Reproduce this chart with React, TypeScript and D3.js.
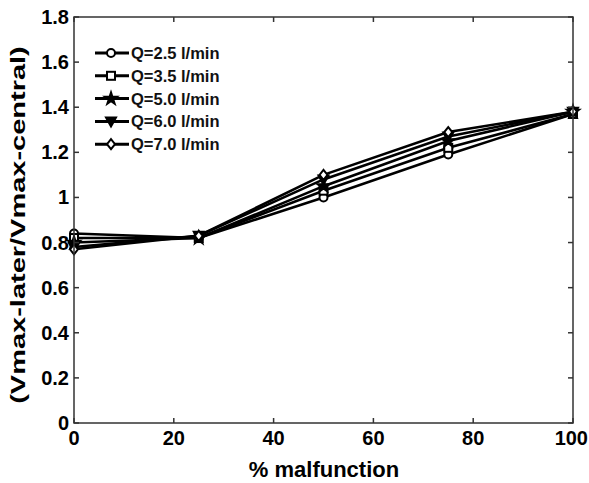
import React from "react";
import * as d3 from "d3";

const xValues = [0, 25, 50, 75, 100];
const seriesNames = ["Q=2.5 l/min", "Q=3.5 l/min", "Q=5.0 l/min", "Q=6.0 l/min", "Q=7.0 l/min"];
const q25 = [0.84, 0.82, 1.0, 1.19, 1.37];
const q35 = [0.82, 0.82, 1.03, 1.22, 1.37];
const q50 = [0.80, 0.82, 1.05, 1.25, 1.38];
const q60 = [0.78, 0.83, 1.08, 1.27, 1.38];
const q70 = [0.77, 0.83, 1.10, 1.29, 1.38];
const markers = ["circle", "square", "star", "triangleDown", "diamond"];
const xTicks = [0, 20, 40, 60, 80, 100];
const yTicks = [0, 0.2, 0.4, 0.6, 0.8, 1, 1.2, 1.4, 1.6, 1.8];

const allSeries = [q25, q35, q50, q60, q70];

function Marker({ type, x, y }: { type: string; x: number; y: number }) {
  const s = 4;
  const common = { stroke: "#000", strokeWidth: 2 };
  if (type === "circle") return <circle cx={x} cy={y} r={s} fill="#fff" {...common} />;
  if (type === "square") return <rect x={x - s} y={y - s} width={2 * s} height={2 * s} fill="#fff" {...common} />;
  if (type === "star") {
    const p = d3.symbol(d3.symbolStar, 55)();
    return <path d={p || ""} transform={`translate(${x},${y})`} fill="#000" stroke="#000" strokeWidth={1.5} />;
  }
  if (type === "triangleDown")
    return <path d={`M${x - s - 1},${y - s}L${x + s + 1},${y - s}L${x},${y + s + 1}Z`} fill="#000" {...common} />;
  return <path d={`M${x},${y - s - 1}L${x + s},${y}L${x},${y + s + 1}L${x - s},${y}Z`} fill="#fff" {...common} />;
}

export default function App() {
  const W = 589, H = 483;
  const left = 74, right = 573, top = 17, bottom = 423;
  const x = d3.scaleLinear().domain([0, 100]).range([left, right]);
  const y = d3.scaleLinear().domain([0, 1.8]).range([bottom, top]);
  const line = d3.line<number>().x((_, i) => x(xValues[i])).y((d) => y(d));
  const font = "Liberation Sans, Arial, sans-serif";
  const tl = 5;
  const tickFs = 20;
  return (
    <svg width={W} height={H} style={{ position: "absolute", left: 0, top: 0 }} fontFamily={font}>
      <rect x={0} y={0} width={W} height={H} fill="#fff" />
      {allSeries.map((s, i) => (
        <path key={i} d={line(s) || ""} fill="none" stroke="#000" strokeWidth={2.6} />
      ))}
      {allSeries.map((s, i) =>
        s.map((v, j) => <Marker key={`${i}-${j}`} type={markers[i]} x={x(xValues[j])} y={y(v)} />)
      )}
      <rect x={left} y={top} width={right - left} height={bottom - top} fill="none" stroke="#333" strokeWidth={1.5} />
      {xTicks.map((t) => {
        const half = (String(t).length * 0.556 * tickFs) / 2;
        const tx = Math.min(x(t), W - half - 1);
        return (
          <g key={`x${t}`}>
            <line x1={x(t)} x2={x(t)} y1={bottom} y2={bottom - tl} stroke="#333" strokeWidth={1.5} />
            <line x1={x(t)} x2={x(t)} y1={top} y2={top + tl} stroke="#333" strokeWidth={1.5} />
            <text x={tx} y={bottom + 22} textAnchor="middle" fontSize={tickFs} fontWeight="bold">{t}</text>
          </g>
        );
      })}
      {yTicks.map((t) => (
        <g key={`y${t}`}>
          <line x1={left} x2={left + tl} y1={y(t)} y2={y(t)} stroke="#333" strokeWidth={1.5} />
          <line x1={right} x2={right - tl} y1={y(t)} y2={y(t)} stroke="#333" strokeWidth={1.5} />
          <text x={left - 5} y={y(t) + 7} textAnchor="end" fontSize={tickFs} fontWeight="bold">{d3.format("~g")(t)}</text>
        </g>
      ))}
      <text x={324} y={477} textAnchor="middle" fontSize={22} fontWeight="bold">% malfunction</text>
      <text transform={`translate(25,${225}) rotate(-90) scale(1.45,1)`} textAnchor="middle" fontSize={20} fontWeight="bold">
        (Vmax-later/Vmax-central)
      </text>
      {seriesNames.map((n, i) => {
        const ly = 53 + i * 22.8;
        return (
          <g key={n}>
            <line x1={95} x2={129} y1={ly} y2={ly} stroke="#000" strokeWidth={3} />
            <Marker type={markers[i]} x={111} y={ly} />
            <text x={131} y={ly + 6} fontSize={16.5} fontWeight="bold" fill="#111">{n}</text>
          </g>
        );
      })}
    </svg>
  );
}
